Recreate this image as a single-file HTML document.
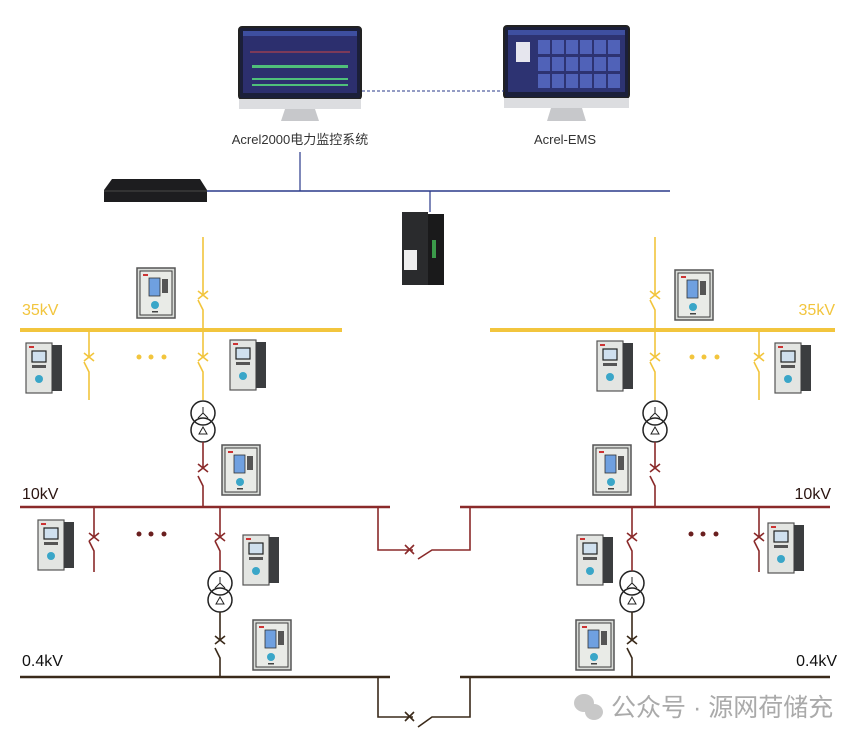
<!DOCTYPE html>
<html><head><meta charset="utf-8"><style>
html,body{margin:0;padding:0;background:#fff;width:863px;height:740px;overflow:hidden}
svg{display:block}
text{font-family:"Liberation Sans","Noto Sans CJK SC",sans-serif}
</style></head><body>
<svg width="863" height="740" viewBox="0 0 863 740" xmlns="http://www.w3.org/2000/svg">
<defs>
<g id="relayF">
<rect x="0" y="0" width="38" height="50" fill="#d9dcd8" stroke="#555" stroke-width="1.5"/>
<rect x="3" y="3" width="32" height="44" fill="#e9ebe7" stroke="#3d3d3d" stroke-width="1"/>
<rect x="6" y="6" width="5" height="2" fill="#c33"/>
<rect x="12" y="10" width="11" height="18" fill="#6fa0e0" stroke="#333" stroke-width="0.8"/>
<rect x="25" y="11" width="6" height="14" fill="#555"/>
<circle cx="18" cy="37" r="4" fill="#3aa6c8"/>
<rect x="15" y="43" width="6" height="1.5" fill="#444"/>
</g>
<g id="relayS">
<rect x="0" y="0" width="26" height="50" fill="#e3e5e2" stroke="#555" stroke-width="1.2"/>
<rect x="26" y="2" width="10" height="46" fill="#3b3d3f"/>
<rect x="3" y="3" width="5" height="2" fill="#c33"/>
<rect x="6" y="8" width="14" height="11" fill="#cfe0ee" stroke="#222" stroke-width="1.2"/>
<rect x="6" y="22" width="14" height="3" fill="#555"/>
<circle cx="13" cy="36" r="4" fill="#3aa6c8"/>
</g>
</defs>

<g>
<rect x="239" y="27" width="122" height="72" rx="3" fill="#1b1f3a" stroke="#222" stroke-width="2"/>
<rect x="243" y="31" width="114" height="62" fill="#2c2f6e"/>
<rect x="243" y="31" width="114" height="5" fill="#3e4fa0"/>
<g stroke="#c44" stroke-width="1"><line x1="250" y1="52" x2="350" y2="52"/></g>
<g fill="#4fbf7a"><rect x="252" y="65" width="96" height="3"/><rect x="252" y="78" width="96" height="2"/><rect x="252" y="84" width="96" height="2"/></g>
<rect x="239" y="99" width="122" height="10" fill="#dcdde0"/>
<polygon points="285,109 315,109 319,121 281,121" fill="#c7c8cb"/>
<rect x="504" y="26" width="125" height="72" rx="3" fill="#1b1f3a" stroke="#222" stroke-width="2"/>
<rect x="508" y="30" width="117" height="62" fill="#2d3372"/>
<rect x="508" y="30" width="117" height="5" fill="#3e4fa0"/>
<rect x="516" y="42" width="14" height="20" fill="#e6e6ee"/>
<g fill="#5062b8">
<rect x="538" y="40" width="12" height="14"/><rect x="552" y="40" width="12" height="14"/><rect x="566" y="40" width="12" height="14"/><rect x="580" y="40" width="12" height="14"/><rect x="594" y="40" width="12" height="14"/><rect x="608" y="40" width="12" height="14"/>
<rect x="538" y="57" width="12" height="14"/><rect x="552" y="57" width="12" height="14"/><rect x="566" y="57" width="12" height="14"/><rect x="580" y="57" width="12" height="14"/><rect x="594" y="57" width="12" height="14"/><rect x="608" y="57" width="12" height="14"/>
<rect x="538" y="74" width="12" height="14"/><rect x="552" y="74" width="12" height="14"/><rect x="566" y="74" width="12" height="14"/><rect x="580" y="74" width="12" height="14"/><rect x="594" y="74" width="12" height="14"/><rect x="608" y="74" width="12" height="14"/>
</g>
<rect x="504" y="98" width="125" height="10" fill="#dcdde0"/>
<polygon points="551,108 582,108 586,121 547,121" fill="#c7c8cb"/>
</g>
<line x1="362" y1="91" x2="504" y2="91" stroke="#2a3a8a" stroke-width="1" stroke-dasharray="3,2"/>
<text x="300" y="144" font-size="13" text-anchor="middle" fill="#333">Acrel2000电力监控系统</text>
<text x="565" y="144" font-size="13" text-anchor="middle" fill="#333">Acrel-EMS</text>

<line x1="300" y1="152" x2="300" y2="191" stroke="#2a3a8a" stroke-width="1.2"/>
<line x1="200" y1="191" x2="670" y2="191" stroke="#2a3a8a" stroke-width="1.5"/>
<line x1="430" y1="191" x2="430" y2="212" stroke="#2a3a8a" stroke-width="1.2"/>
<polygon points="104,190 112,179 200,179 207,190 207,202 104,202" fill="#1d1d1f"/>
<rect x="104" y="190" width="103" height="2" fill="#333"/>
<rect x="402" y="212" width="26" height="73" fill="#2a2b2d"/>
<rect x="428" y="214" width="16" height="71" fill="#1a1a1b"/>
<rect x="404" y="250" width="13" height="20" fill="#eee"/>
<rect x="432" y="240" width="4" height="18" fill="#3b9a4a"/>

<g stroke="#f2c53d" stroke-width="1.6" fill="none">
<line x1="20" y1="330" x2="342" y2="330" stroke-width="4"/>
<line x1="490" y1="330" x2="835" y2="330" stroke-width="4"/>
<path d="M203 237 V296 M198 300 L203 310 V330 V358 M198 362 L203 372 V400"/>
<path d="M198 291 L208 299 M208 291 L198 299 M198 353 L208 361 M208 353 L198 361"/>
<path d="M89 330 V358 M84 362 L89 372 V400 M84 353 L94 361 M94 353 L84 361"/>
<path d="M655 237 V296 M650 300 L655 310 V330 V358 M650 362 L655 372 V400"/>
<path d="M650 291 L660 299 M660 291 L650 299 M650 353 L660 361 M660 353 L650 361"/>
<path d="M759 330 V358 M754 362 L759 372 V400 M754 353 L764 361 M764 353 L754 361"/>
</g>
<g fill="#f2c53d"><circle cx="139" cy="357" r="2.5"/><circle cx="151" cy="357" r="2.5"/><circle cx="164" cy="357" r="2.5"/>
<circle cx="692" cy="357" r="2.5"/><circle cx="704" cy="357" r="2.5"/><circle cx="717" cy="357" r="2.5"/></g>
<text x="22" y="315" font-size="16" fill="#f2c53d">35kV</text>
<text x="835" y="315" font-size="16" fill="#f2c53d" text-anchor="end">35kV</text>

<g stroke="#222" stroke-width="1.5" fill="#fff">
<circle cx="203" cy="413" r="12"/><circle cx="203" cy="430" r="12" fill="none"/>
<circle cx="655" cy="413" r="12"/><circle cx="655" cy="430" r="12" fill="none"/>
<circle cx="220" cy="583" r="12"/><circle cx="220" cy="600" r="12" fill="none"/>
<circle cx="632" cy="583" r="12"/><circle cx="632" cy="600" r="12" fill="none"/>
</g>
<g stroke="#222" stroke-width="1" fill="none">
<path d="M203 413 V407 M203 413 L198 418 M203 413 L208 418 M199 434 L203 427 L207 434 Z"/>
<path d="M655 413 V407 M655 413 L650 418 M655 413 L660 418 M651 434 L655 427 L659 434 Z"/>
<path d="M220 583 V577 M220 583 L215 588 M220 583 L225 588 M216 604 L220 597 L224 604 Z"/>
<path d="M632 583 V577 M632 583 L627 588 M632 583 L637 588 M628 604 L632 597 L636 604 Z"/>
</g>

<g stroke="#8a2a2a" stroke-width="1.6" fill="none">
<line x1="20" y1="507" x2="390" y2="507" stroke-width="2.5"/>
<line x1="460" y1="507" x2="830" y2="507" stroke-width="2.5"/>
<path d="M203 442 V469 M198 476 L203 486 V507 M198 464 L208 472 M208 464 L198 472"/>
<path d="M655 442 V469 M650 476 L655 486 V507 M650 464 L660 472 M660 464 L650 472"/>
<path d="M94 507 V537 M89 541 L94 551 V572 M89 533 L99 541 M99 533 L89 541"/>
<path d="M220 507 V537 M215 541 L220 551 V571 M215 533 L225 541 M225 533 L215 541"/>
<path d="M632 507 V537 M627 541 L632 551 V571 M627 533 L637 541 M637 533 L627 541"/>
<path d="M759 507 V537 M754 541 L759 551 V572 M754 533 L764 541 M764 533 L754 541"/>
<path d="M378 507 V550 H413 M418 559 L432 550 H470 V507 M405 545 L414 554 M414 545 L405 554"/>
</g>
<g fill="#6a1f1f"><circle cx="139" cy="534" r="2.5"/><circle cx="151" cy="534" r="2.5"/><circle cx="164" cy="534" r="2.5"/>
<circle cx="691" cy="534" r="2.5"/><circle cx="703" cy="534" r="2.5"/><circle cx="716" cy="534" r="2.5"/></g>
<text x="22" y="499" font-size="16" fill="#2a1410">10kV</text>
<text x="831" y="499" font-size="16" fill="#2a1410" text-anchor="end">10kV</text>

<g stroke="#3a2a1a" stroke-width="1.6" fill="none">
<line x1="20" y1="677" x2="390" y2="677" stroke-width="2.5"/>
<line x1="460" y1="677" x2="830" y2="677" stroke-width="2.5"/>
<path d="M220 612 V640 M215 648 L220 658 V677 M215 636 L225 644 M225 636 L215 644"/>
<path d="M632 612 V640 M627 648 L632 658 V677 M627 636 L637 644 M637 636 L627 644"/>
<path d="M378 677 V717 H413 M418 727 L432 717 H470 V677 M405 712 L414 721 M414 712 L405 721"/>
</g>
<text x="22" y="666" font-size="16" fill="#111">0.4kV</text>
<text x="837" y="666" font-size="16" fill="#111" text-anchor="end">0.4kV</text>

<use href="#relayF" x="137" y="268"/>
<use href="#relayS" x="26" y="343"/>
<use href="#relayS" x="230" y="340"/>
<use href="#relayF" x="222" y="445"/>
<use href="#relayS" x="38" y="520"/>
<use href="#relayS" x="243" y="535"/>
<use href="#relayF" x="253" y="620"/>
<use href="#relayF" x="675" y="270"/>
<use href="#relayS" x="597" y="341"/>
<use href="#relayS" x="775" y="343"/>
<use href="#relayF" x="593" y="445"/>
<use href="#relayS" x="577" y="535"/>
<use href="#relayS" x="768" y="523"/>
<use href="#relayF" x="576" y="620"/>

<g fill="#c8c8c8"><ellipse cx="584" cy="703" rx="10" ry="9"/><ellipse cx="594" cy="712" rx="9" ry="8"/></g>
<text x="611" y="716" font-size="25" fill="#aaa">公众号 · 源网荷储充</text>
</svg>
</body></html>
